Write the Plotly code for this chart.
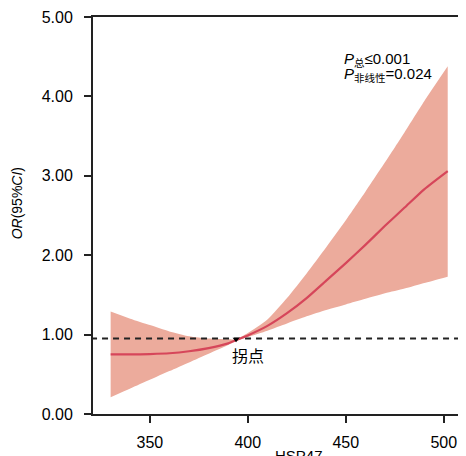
import plotly.graph_objects as go

# Data
hsp47 = [330, 340, 350, 360, 370, 380, 390, 394, 400, 410, 420, 430, 440, 450, 460, 470, 480, 490, 502]
or_est = [0.75, 0.75, 0.755, 0.765, 0.79, 0.83, 0.89, 0.93, 0.99, 1.11, 1.27, 1.46, 1.68, 1.90, 2.13, 2.37, 2.60, 2.83, 3.06]
ci_low = [0.21, 0.32, 0.43, 0.54, 0.65, 0.76, 0.87, 0.92, 0.97, 1.05, 1.14, 1.23, 1.31, 1.38, 1.45, 1.52, 1.58, 1.65, 1.73]
ci_up = [1.29, 1.20, 1.12, 1.04, 0.98, 0.95, 0.94, 0.94, 1.02, 1.19, 1.46, 1.77, 2.10, 2.44, 2.80, 3.17, 3.55, 3.94, 4.38]
knot_x = [394]
knot_y = [0.94]
ref_y = 0.95
x_ticks = [350, 400, 450, 500]
y_ticks = [0, 1, 2, 3, 4, 5]
y_tick_text = ["0.00", "1.00", "2.00", "3.00", "4.00", "5.00"]

FILL = "#ECAB9C"
LINE = "#D6465A"
FONT = "Liberation Sans"
CJK = "Noto Sans CJK SC"

fig = go.Figure()
fig.add_trace(go.Scatter(x=hsp47, y=ci_up, mode="lines", line=dict(width=0, shape="spline", smoothing=0.6),
                         hoverinfo="skip", showlegend=False))
fig.add_trace(go.Scatter(x=hsp47, y=ci_low, mode="lines", line=dict(width=0, shape="spline", smoothing=0.6),
                         fill="tonexty", fillcolor=FILL, hoverinfo="skip", showlegend=False))
fig.add_trace(go.Scatter(x=[320, 510], y=[ref_y, ref_y], mode="lines",
                         line=dict(color="#222222", width=2, dash="6px,5px"), showlegend=False))
fig.add_trace(go.Scatter(x=hsp47, y=or_est, mode="lines",
                         line=dict(color=LINE, width=2.2, shape="spline", smoothing=0.6),
                         showlegend=False))
fig.add_trace(go.Scatter(x=knot_x, y=knot_y, mode="markers",
                         marker=dict(symbol="triangle-down", size=6, color="black"), showlegend=False))

fig.add_annotation(x=400, y=0.74, xref="x", yref="y", text="拐点", showarrow=False,
                   font=dict(family=CJK, size=16, color="black"))
fig.add_annotation(x=0.672, y=0.894, xref="paper", yref="paper", xanchor="left", yanchor="middle",
                   text="<i>P</i><sub>总</sub>≤0.001", showarrow=False,
                   font=dict(family=FONT + ", " + CJK, size=15, color="black"))
fig.add_annotation(x=0.672, y=0.855, xref="paper", yref="paper", xanchor="left", yanchor="middle",
                   text="<i>P</i><sub>非线性</sub>=0.024", showarrow=False,
                   font=dict(family=FONT + ", " + CJK, size=15, color="black"))
fig.add_annotation(x=0.556, y=0, xref="paper", yref="paper", xanchor="center", yanchor="top",
                   yshift=-31, text="HSP47", showarrow=False,
                   font=dict(family=FONT, size=15, color="black"))
fig.add_annotation(x=-0.205, y=0.531, xref="paper", yref="paper", xanchor="center", yanchor="middle",
                   textangle=-90, text="<i>OR</i>(95%<i>CI</i>)", showarrow=False,
                   font=dict(family=FONT, size=14, color="black"))

# The page body adds an 8px margin, so the figure is 8px smaller than the window
fig.update_layout(
    width=458, height=448,
    margin=dict(l=85, r=1, t=9, b=42),
    paper_bgcolor="white", plot_bgcolor="white",
    font=dict(family=FONT, size=16, color="black"),
)
fig.update_xaxes(range=[321, 509.8], tickvals=x_ticks, ticks="outside", ticklen=7, tickwidth=1.5,
                 tickcolor="#222222", showline=True, linecolor="#222222", linewidth=2, mirror=True,
                 showgrid=False, zeroline=False, ticklabelstandoff=6,
                 tickfont=dict(family=FONT, size=16))
fig.update_yaxes(range=[0, 5], tickvals=y_ticks, ticktext=y_tick_text, ticks="outside", ticklen=7,
                 tickwidth=1.5, tickcolor="#222222", showline=True, linecolor="#222222", linewidth=2,
                 mirror=True, showgrid=False, zeroline=False, ticklabelstandoff=8,
                 tickfont=dict(family=FONT, size=16))

fig.write_html("out.html")
